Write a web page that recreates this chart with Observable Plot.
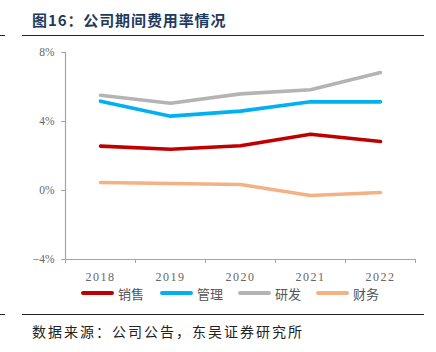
<!DOCTYPE html>
<html><head><meta charset="utf-8">
<script src="https://cdn.jsdelivr.net/npm/d3@7"></script>
<script src="https://cdn.jsdelivr.net/npm/@observablehq/plot@0.6"></script>
<style>
body{margin:0;background:#fff;}
#wrap{position:relative;width:436px;height:352px;overflow:hidden;font-family:"Noto Sans CJK SC",sans-serif;}
.abs{position:absolute;white-space:nowrap;}
#title{left:32px;top:10px;font-size:15px;font-weight:bold;color:#1f3a5f;letter-spacing:0.9px;line-height:20px;}
.rule{position:absolute;height:1.5px;background:#222;}
#src{left:32px;top:321px;font-size:14px;color:#222;letter-spacing:2px;line-height:20px;}
#legend{left:0;top:284px;height:18px;width:436px;}
.li{position:absolute;top:0;height:18px;display:flex;align-items:center;font-size:13px;color:#555;}
.sw{display:inline-block;width:33px;height:4px;border-radius:2px;margin-right:4px;}
#chart{position:absolute;left:0;top:0;}
.xl text{font-size:12px;letter-spacing:1.5px;}
.yl text{font-size:11.5px;}
</style></head>
<body><div id="wrap">
<div id="chart"></div>
<div class="abs" id="title">图16：公司期间费用率情况</div>
<div class="rule" style="left:22px;top:34.5px;width:402px;"></div>
<div class="rule" style="left:0;top:34.5px;width:5px;"></div>
<div class="rule" style="left:22px;top:313.5px;width:402px;"></div>
<div class="rule" style="left:0;top:313.5px;width:5px;"></div>
<div class="abs" id="legend"></div>
<div class="abs" id="src">数据来源：公司公告，东吴证券研究所</div>
</div>
<script>
const years = [2018, 2019, 2020, 2021, 2022];
const seriesNames = ["销售", "管理", "研发", "财务"];
const sales = [2.57, 2.39, 2.59, 3.26, 2.84];
const admin = [5.18, 4.31, 4.60, 5.14, 5.14];
const rnd = [5.52, 5.06, 5.60, 5.84, 6.84];
const fin = [0.46, 0.41, 0.35, -0.29, -0.12];
const yTicks = [-4, 0, 4, 8];
const colors = ["#c00000", "#00b0f0", "#b4b4b4", "#f4b183"];

const valuesBySeries = [sales, admin, rnd, fin];
const data = [];
seriesNames.forEach((s, i) => years.forEach((y, j) => data.push({series: s, year: y, value: valuesBySeries[i][j]})));
const boundaries = years.map(y => y - 0.5).concat([years[years.length - 1] + 0.5]);

const chart = Plot.plot({
  width: 436, height: 352,
  marginLeft: 65, marginRight: 21, marginTop: 52, marginBottom: 93,
  style: {fontFamily: "'Liberation Serif', serif", fontSize: "11px", color: "#666", background: "transparent"},
  x: {type: "linear", domain: [boundaries[0], boundaries[boundaries.length - 1]]},
  y: {domain: [-4, 8]},
  color: {domain: seriesNames, range: colors},
  marks: [
    Plot.ruleX([boundaries[0]], {stroke: "#a6a6a6", strokeWidth: 1.2}),
    Plot.ruleY([-4], {stroke: "#a6a6a6", strokeWidth: 1.2}),
    Plot.axisY({ticks: yTicks, tickFormat: d => (d < 0 ? "\u2212" : "") + Math.abs(d) + "%", tickSize: 4, tickPadding: 7, stroke: "#a6a6a6", fill: "#666", label: null, className: "yl"}),
    Plot.axisX({ticks: boundaries, tickFormat: () => "", tickSize: 4, stroke: "#a6a6a6", label: null}),
    Plot.axisX({ticks: years, tickFormat: d => String(d), tickSize: 0, tickPadding: 13, fill: "#666", label: null, className: "xl"}),
    Plot.line(data, {x: "year", y: "value", z: "series", stroke: "series", strokeWidth: 3.6, strokeLinejoin: "round", strokeLinecap: "round"})
  ]
});
document.getElementById("chart").appendChild(chart);

const legendPos = [81, 160, 238, 316];
const leg = document.getElementById("legend");
seriesNames.forEach((s, i) => {
  const d = document.createElement("div");
  d.className = "li";
  d.style.left = legendPos[i] + "px";
  d.innerHTML = `<span class="sw" style="background:${colors[i]}"></span><span>${s}</span>`;
  leg.appendChild(d);
});
</script>
</body></html>
